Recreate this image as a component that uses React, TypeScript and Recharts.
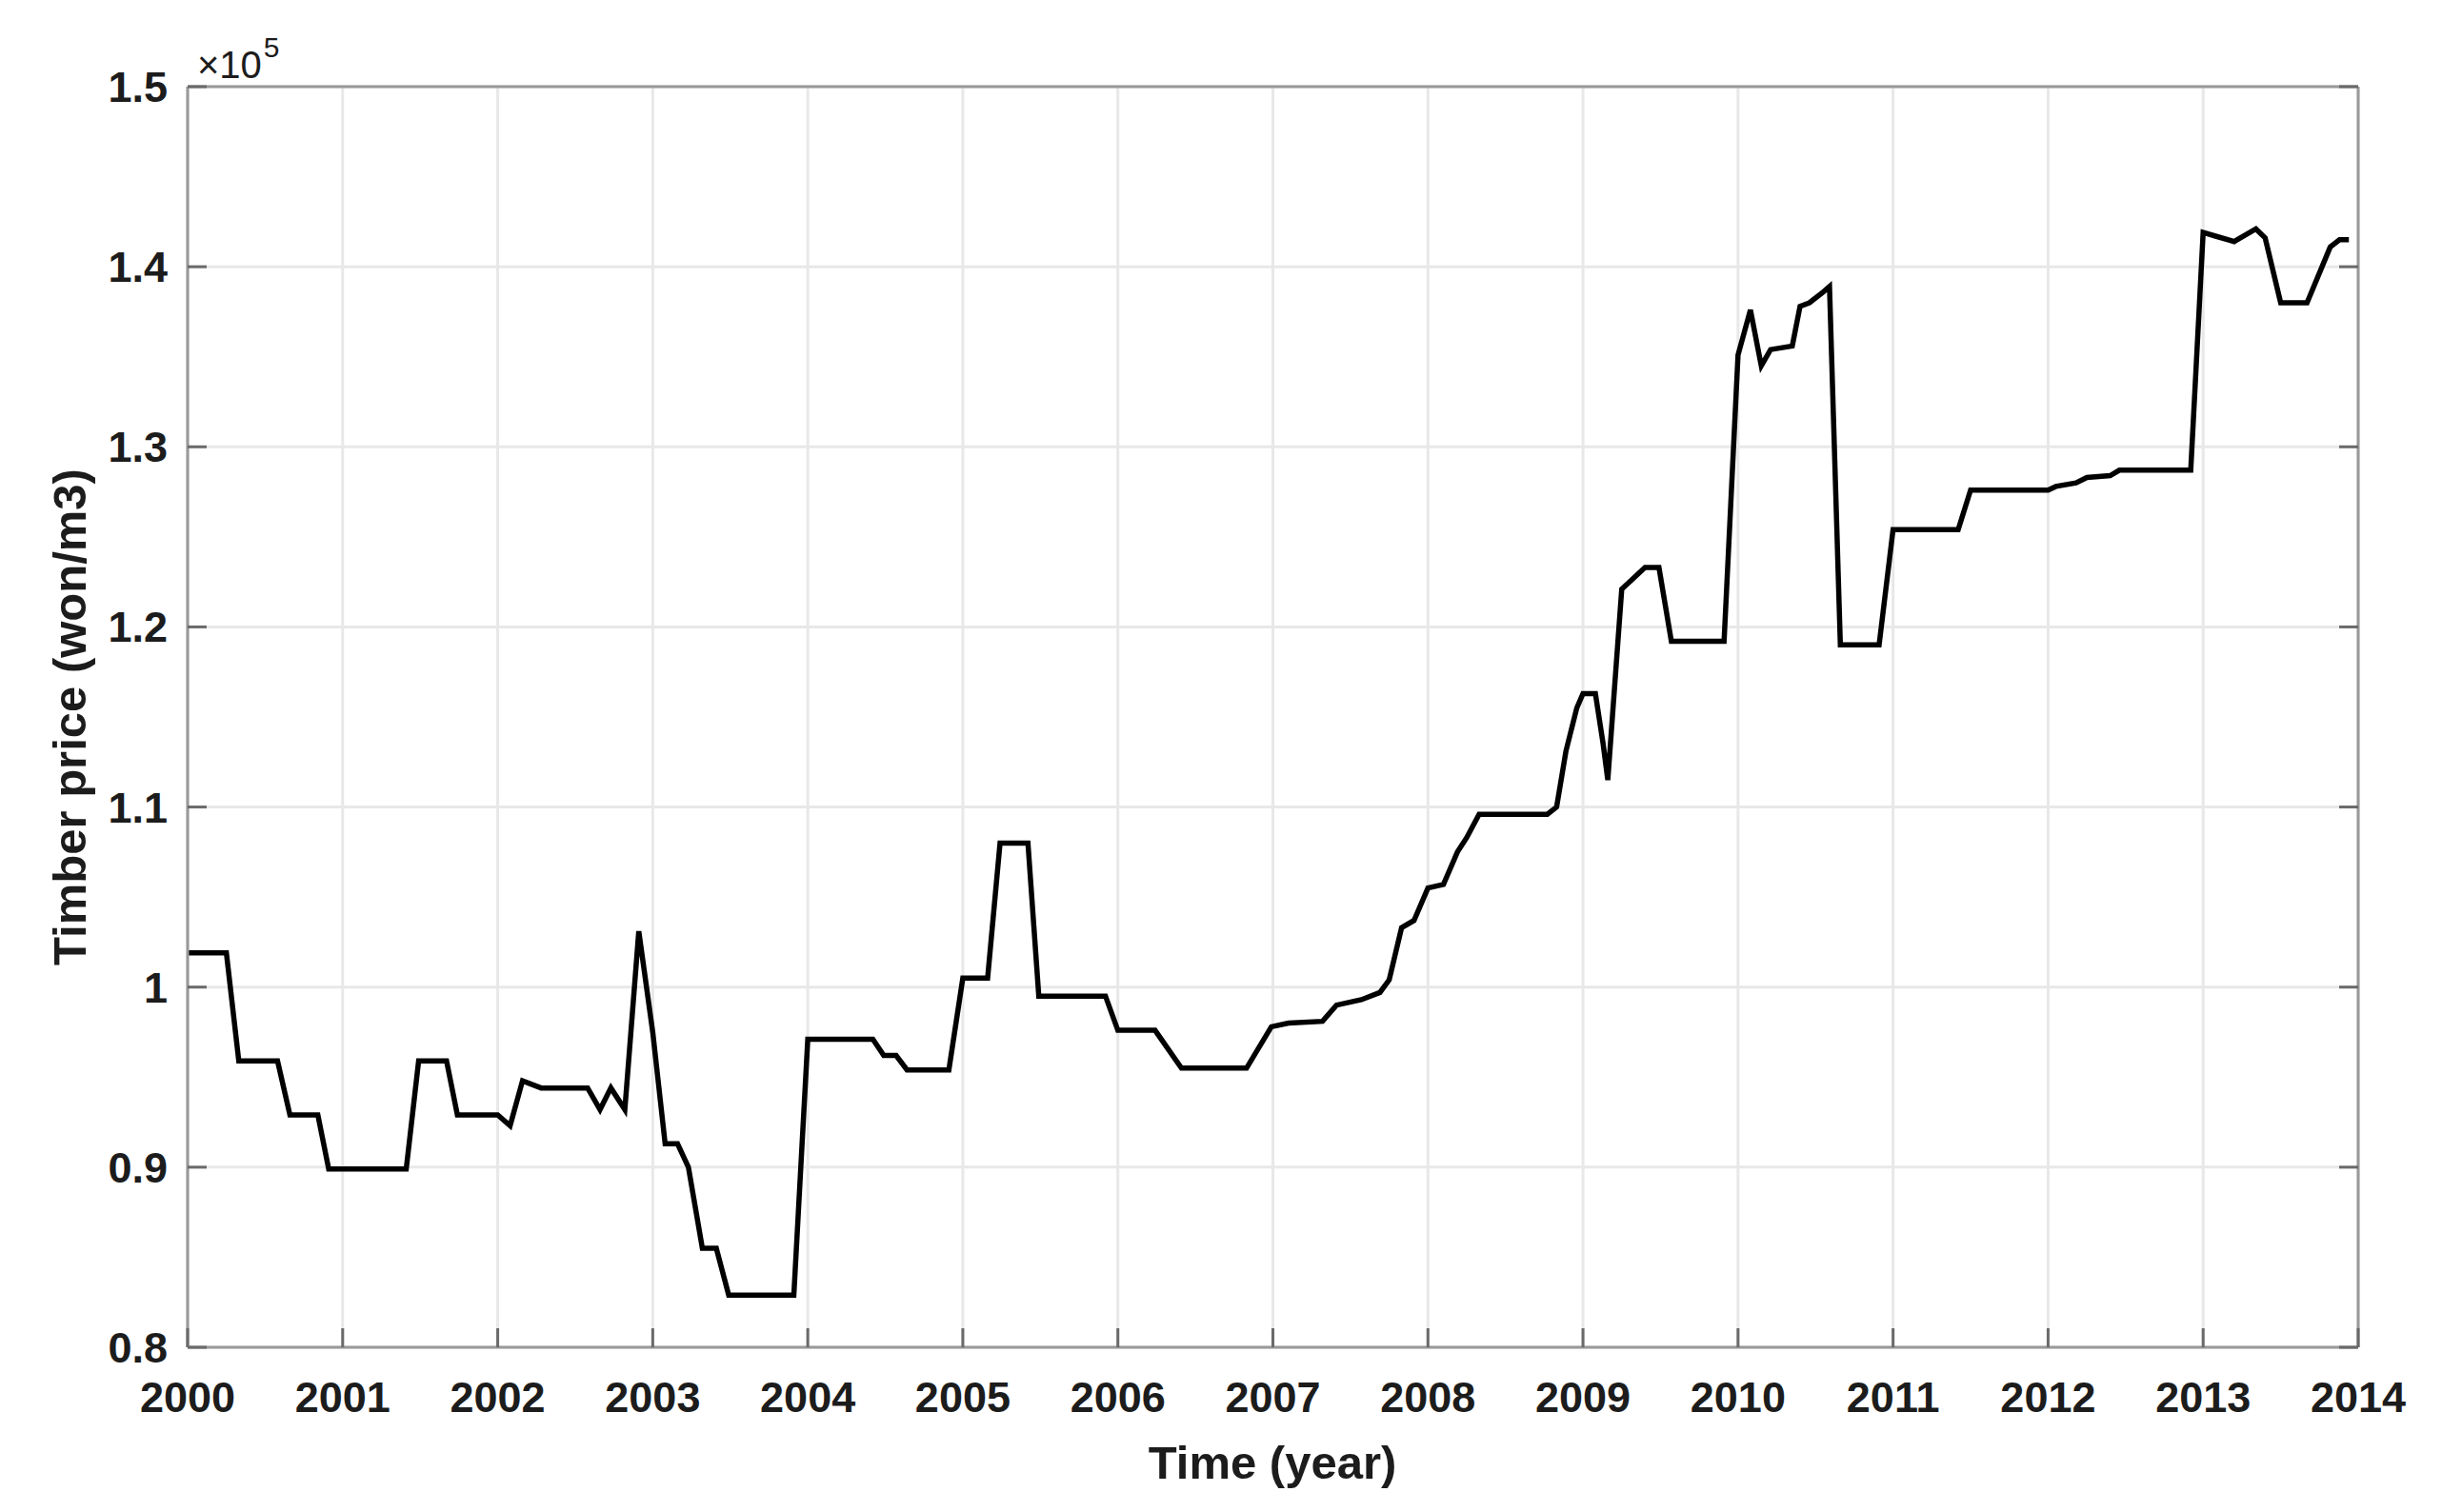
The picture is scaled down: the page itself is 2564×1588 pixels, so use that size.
import React from "react";
import {
  LineChart,
  Line,
  XAxis,
  YAxis,
  CartesianGrid,
} from "recharts";

// vertices of the price curve (x10^5 won/m3)
const times = [
  2000.0, 2000.25, 2000.33, 2000.58, 2000.66, 2000.84, 2000.91, 2001.41, 2001.49, 2001.67,
  2001.74, 2002.0, 2002.08, 2002.16, 2002.28, 2002.58, 2002.66, 2002.73, 2002.82, 2002.91,
  2003.0, 2003.08, 2003.16, 2003.23, 2003.32, 2003.41, 2003.49, 2003.91, 2004.0, 2004.42,
  2004.49, 2004.57, 2004.64, 2004.91, 2005.0, 2005.16, 2005.24, 2005.42, 2005.49, 2005.92,
  2006.0, 2006.24, 2006.41, 2006.83, 2006.99, 2007.1, 2007.32, 2007.41, 2007.57, 2007.69,
  2007.75, 2007.83, 2007.91, 2008.0, 2008.1, 2008.19, 2008.25, 2008.33, 2008.77, 2008.83,
  2008.89, 2008.96, 2009.0, 2009.08, 2009.13, 2009.16, 2009.25, 2009.4, 2009.49, 2009.57,
  2009.91, 2010.0, 2010.08, 2010.15, 2010.21, 2010.35, 2010.4, 2010.46, 2010.55, 2010.59,
  2010.66, 2010.91, 2011.0, 2011.42, 2011.5, 2012.0, 2012.05, 2012.18, 2012.25, 2012.4,
  2012.46, 2012.92, 2013.0, 2013.08, 2013.2, 2013.34, 2013.4, 2013.5, 2013.67, 2013.82,
  2013.88, 2013.94,
];

const prices = [
  1.019, 1.019, 0.959, 0.959, 0.929, 0.929, 0.899, 0.899, 0.959, 0.959,
  0.929, 0.929, 0.923, 0.948, 0.944, 0.944, 0.932, 0.944, 0.932, 1.031,
  0.975, 0.913, 0.913, 0.9, 0.855, 0.855, 0.829, 0.829, 0.971, 0.971,
  0.962, 0.962, 0.954, 0.954, 1.005, 1.005, 1.08, 1.08, 0.995, 0.995,
  0.976, 0.976, 0.955, 0.955, 0.978, 0.98, 0.981, 0.99, 0.993, 0.997,
  1.004, 1.033, 1.037, 1.055, 1.057, 1.075, 1.083, 1.096, 1.096, 1.1,
  1.131, 1.155, 1.163, 1.163, 1.135, 1.115, 1.221, 1.233, 1.233, 1.192,
  1.192, 1.351, 1.376, 1.345, 1.354, 1.356, 1.378, 1.38, 1.386, 1.389,
  1.19, 1.19, 1.254, 1.254, 1.276, 1.276, 1.278, 1.28, 1.283, 1.284,
  1.287, 1.287, 1.419, 1.417, 1.414, 1.421, 1.416, 1.38, 1.38, 1.411,
  1.415, 1.415,
];

const yearTicks = [
  2000, 2001, 2002, 2003, 2004, 2005, 2006, 2007, 2008, 2009, 2010, 2011, 2012, 2013, 2014,
];
const priceTicks = [0.8, 0.9, 1.0, 1.1, 1.2, 1.3, 1.4, 1.5];

const data = times.map((t, i) => ({ t, v: prices[i] }));

const FONT = "'Liberation Sans', Arial, Helvetica, sans-serif";
const TEXT = "#1c1c1c";
const AXIS = "#999";
const TICK = "#6a6a6a";
const TICK_LEN = 20;

const fmt = (v: number) => (Math.abs(v - 1) < 1e-9 ? "1" : v.toFixed(1));

const BottomTick = (props: any) => {
  const { x, y, payload } = props;
  return (
    <g>
      <line x1={x} y1={y} x2={x} y2={y - TICK_LEN} stroke={TICK} strokeWidth={3} />
      <text
        x={x}
        y={y + 68}
        textAnchor="middle"
        fontFamily={FONT}
        fontWeight="bold"
        fontSize={45}
        fill={TEXT}
      >
        {payload.value}
      </text>
    </g>
  );
};

const LeftTick = (props: any) => {
  const { x, y, payload } = props;
  return (
    <g>
      <line x1={x} y1={y} x2={x + TICK_LEN} y2={y} stroke={TICK} strokeWidth={3} />
      <text
        x={x - 21}
        y={y + 16}
        textAnchor="end"
        fontFamily={FONT}
        fontWeight="bold"
        fontSize={45}
        fill={TEXT}
      >
        {fmt(payload.value)}
      </text>
    </g>
  );
};

const TopTick = (props: any) => {
  const { x, y } = props;
  return <line x1={x} y1={y} x2={x} y2={y + TICK_LEN} stroke={TICK} strokeWidth={3} />;
};

const RightTick = (props: any) => {
  const { x, y } = props;
  return <line x1={x} y1={y} x2={x - TICK_LEN} y2={y} stroke={TICK} strokeWidth={3} />;
};

const Annotations = () => (
  <g fontFamily={FONT} fill={TEXT}>
    <text
      x={82}
      y={745}
      transform="rotate(-90 82 745)"
      textAnchor="middle"
      fontSize={49}
      fontWeight="bold"
    >
      Timber price (won/m3)
    </text>
    <text x={1328} y={1545} textAnchor="middle" fontSize={49} fontWeight="bold">
      Time (year)
    </text>
    <text x={199} y={74} fontSize={40}>
      ×10
      <tspan dx={2} dy={-22} fontSize={30}>
        5
      </tspan>
    </text>
  </g>
);

export default function App() {
  return (
    <div style={{ width: 2540, height: 1570, background: "#fff" }}>
      <LineChart
        width={2540}
        height={1570}
        data={data}
        margin={{ top: 73, right: 62, bottom: 73, left: 69 }}
      >
        <CartesianGrid stroke="#e8e8e8" strokeWidth={3} />
        <XAxis
          dataKey="t"
          type="number"
          domain={[2000, 2014]}
          ticks={yearTicks}
          interval={0}
          height={90}
          tickSize={0}
          tickMargin={0}
          tickLine={false}
          tick={<BottomTick />}
          axisLine={{ stroke: AXIS, strokeWidth: 3 }}
          allowDataOverflow
          label={{ content: () => <Annotations /> }}
        />
        <XAxis
          xAxisId="top"
          orientation="top"
          type="number"
          domain={[2000, 2014]}
          ticks={yearTicks}
          interval={0}
          height={10}
          tickSize={0}
          tickMargin={0}
          tickLine={false}
          tick={<TopTick />}
          axisLine={{ stroke: AXIS, strokeWidth: 3 }}
          allowDataOverflow
        />
        <YAxis
          type="number"
          domain={[0.8, 1.5]}
          ticks={priceTicks}
          interval={0}
          width={120}
          tickSize={0}
          tickMargin={0}
          tickLine={false}
          tick={<LeftTick />}
          axisLine={{ stroke: AXIS, strokeWidth: 3 }}
          allowDataOverflow
        />
        <YAxis
          yAxisId="right"
          orientation="right"
          type="number"
          domain={[0.8, 1.5]}
          ticks={priceTicks}
          interval={0}
          width={10}
          tickSize={0}
          tickMargin={0}
          tickLine={false}
          tick={<RightTick />}
          axisLine={{ stroke: AXIS, strokeWidth: 3 }}
          allowDataOverflow
        />
        <Line
          type="linear"
          dataKey="v"
          stroke="#000"
          strokeWidth={5.5}
          dot={false}
          isAnimationActive={false}
        />
      </LineChart>
    </div>
  );
}
